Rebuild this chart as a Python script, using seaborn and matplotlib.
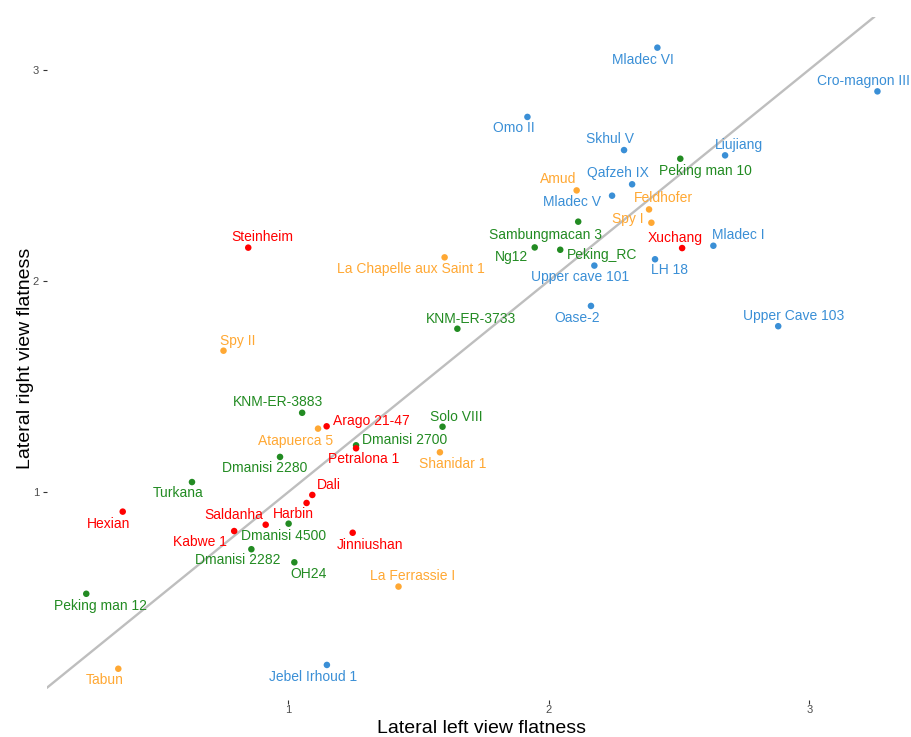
import matplotlib
matplotlib.use("Agg")
import matplotlib.pyplot as plt
import seaborn as sns
import pandas as pd

# Specimens, their cranial flatness in left and right lateral view, and group
names = [
    "Steinheim", "La Chapelle aux Saint 1", "Spy II", "KNM-ER-3733",
    "Mladec VI", "Cro-magnon III", "Omo II", "Skhul V", "Liujiang",
    "Peking man 10", "Qafzeh IX", "Amud", "Mladec V", "Feldhofer", "Spy I",
    "Sambungmacan 3", "Xuchang", "Mladec I", "Ng12", "Peking_RC", "LH 18",
    "Upper cave 101", "Oase-2", "Upper Cave 103",
    "KNM-ER-3883", "Arago 21-47", "Atapuerca 5", "Solo VIII", "Dmanisi 2700",
    "Petralona 1", "Shanidar 1", "Dmanisi 2280", "Turkana", "Dali", "Harbin",
    "Hexian", "Saldanha", "Dmanisi 4500", "Kabwe 1", "Jinniushan",
    "Dmanisi 2282", "OH24", "La Ferrassie I", "Peking man 12", "Tabun",
    "Jebel Irhoud 1",
]
left_flatness = [
    0.846, 1.600, 0.751, 1.649,
    2.417, 3.262, 1.918, 2.289, 2.677,
    2.505, 2.320, 2.107, 2.243, 2.385, 2.394,
    2.113, 2.512, 2.632, 1.946, 2.044, 2.408,
    2.175, 2.162, 2.881,
    1.053, 1.147, 1.114, 1.592, 1.260,
    1.260, 1.582, 0.968, 0.630, 1.092, 1.070,
    0.364, 0.913, 1.001, 0.792, 1.247,
    0.858, 1.023, 1.423, 0.224, 0.347,
    1.148,
]
right_flatness = [
    2.157, 2.111, 1.669, 1.773,
    3.104, 2.897, 2.776, 2.619, 2.594,
    2.578, 2.457, 2.428, 2.403, 2.338, 2.275,
    2.280, 2.155, 2.166, 2.158, 2.147, 2.102,
    2.072, 1.881, 1.785,
    1.375, 1.311, 1.300, 1.309, 1.221,
    1.207, 1.188, 1.166, 1.047, 0.986, 0.948,
    0.907, 0.845, 0.850, 0.815, 0.807,
    0.729, 0.667, 0.552, 0.518, 0.163,
    0.181,
]
groups = [
    "archaic", "neanderthal", "neanderthal", "erectus",
    "modern", "modern", "modern", "modern", "modern",
    "erectus", "modern", "neanderthal", "modern", "neanderthal", "neanderthal",
    "erectus", "archaic", "modern", "erectus", "erectus", "modern",
    "modern", "modern", "modern",
    "erectus", "archaic", "neanderthal", "erectus", "erectus",
    "archaic", "neanderthal", "erectus", "erectus", "archaic", "archaic",
    "archaic", "archaic", "erectus", "archaic", "archaic",
    "erectus", "erectus", "neanderthal", "erectus", "neanderthal",
    "modern",
]

palette = {
    "archaic": "#FF0000",
    "neanderthal": "#FFA833",
    "erectus": "#228B22",
    "modern": "#3A8FD6",
}

# Label placement relative to each point, in pixels (right, down)
label_offsets = {
    "Steinheim": (14, -11), "La Chapelle aux Saint 1": (-34, 12),
    "Spy II": (14, -10), "KNM-ER-3733": (14, -10),
    "Mladec VI": (-14, 12), "Cro-magnon III": (-14, -10),
    "Omo II": (-14, 11), "Skhul V": (-14, -11), "Liujiang": (14, -10),
    "Peking man 10": (25, 12), "Qafzeh IX": (-14, -11), "Amud": (-18, -11),
    "Mladec V": (-40, 6), "Feldhofer": (14, -11), "Spy I": (-24, -4),
    "Sambungmacan 3": (-33, 13), "Xuchang": (-7, -10), "Mladec I": (25, -11),
    "Ng12": (-23, 10), "Peking_RC": (42, 5), "LH 18": (14, 11),
    "Upper cave 101": (-14, 11), "Oase-2": (-14, 12),
    "Upper Cave 103": (15, -10),
    "KNM-ER-3883": (-24, -11), "Arago 21-47": (45, -5),
    "Atapuerca 5": (-22, 12), "Solo VIII": (14, -10),
    "Dmanisi 2700": (49, -5), "Petralona 1": (8, 11),
    "Shanidar 1": (13, 12), "Dmanisi 2280": (-15, 11),
    "Turkana": (-14, 11), "Dali": (17, -10), "Harbin": (-13, 11),
    "Hexian": (-14, 12), "Saldanha": (-32, -10), "Dmanisi 4500": (-5, 12),
    "Kabwe 1": (-34, 11), "Jinniushan": (17, 12), "Dmanisi 2282": (-14, 11),
    "OH24": (14, 12), "La Ferrassie I": (14, -11),
    "Peking man 12": (14, 12), "Tabun": (-14, 11),
    "Jebel Irhoud 1": (-14, 12),
}

df = pd.DataFrame({
    "name": names,
    "left": left_flatness,
    "right": right_flatness,
    "group": groups,
})

sns.set_theme(style="white")
plt.rcParams["font.family"] = ["Liberation Sans", "DejaVu Sans"]

W, H = 912, 737
fig = plt.figure(figsize=(W / 100, H / 100), dpi=100)
ax = fig.add_axes([46.7 / W, (H - 699.8) / H, (917 - 46.7) / W, (699.8 - 16.6) / H])

sns.scatterplot(
    data=df, x="left", y="right", hue="group", palette=palette,
    s=22, linewidth=0, legend=False, ax=ax, zorder=3,
)

# Line of equal flatness on both sides
ax.axline((0, 0), slope=1, color="#BEBEBE", lw=1.7, zorder=2)

for _, row in df.iterrows():
    dx, dy = label_offsets[row["name"]]
    ax.annotate(
        row["name"], (row["left"], row["right"]),
        xytext=(dx, -dy), textcoords="offset pixels",
        ha="center", va="center", fontsize=10,
        color=palette[row["group"]], zorder=4,
    )

xmin, xmax = df["left"].min(), df["left"].max()
ymin, ymax = df["right"].min(), df["right"].max()
xpad = 0.05 * (xmax - xmin)
ypad = 0.05 * (ymax - ymin)
ax.set_xlim(xmin - xpad, xmax + xpad)
ax.set_ylim(ymin - ypad, ymax + ypad)

ax.set_xticks([1, 2, 3])
ax.set_yticks([1, 2, 3])
ax.tick_params(
    bottom=True, left=True, length=2.6, width=0.8, color="#333333",
    labelsize=8, labelcolor="#4D4D4D",
)
ax.tick_params(axis="y", pad=3)
ax.tick_params(axis="x", pad=1.5)
for s in ax.spines.values():
    s.set_visible(False)
ax.grid(False)

ax.set_xlabel("Lateral left view flatness", fontsize=14, color="black", labelpad=3)
ax.set_ylabel("Lateral right view flatness", fontsize=14, color="black", labelpad=-1)

fig.savefig("out.png", dpi=100)
